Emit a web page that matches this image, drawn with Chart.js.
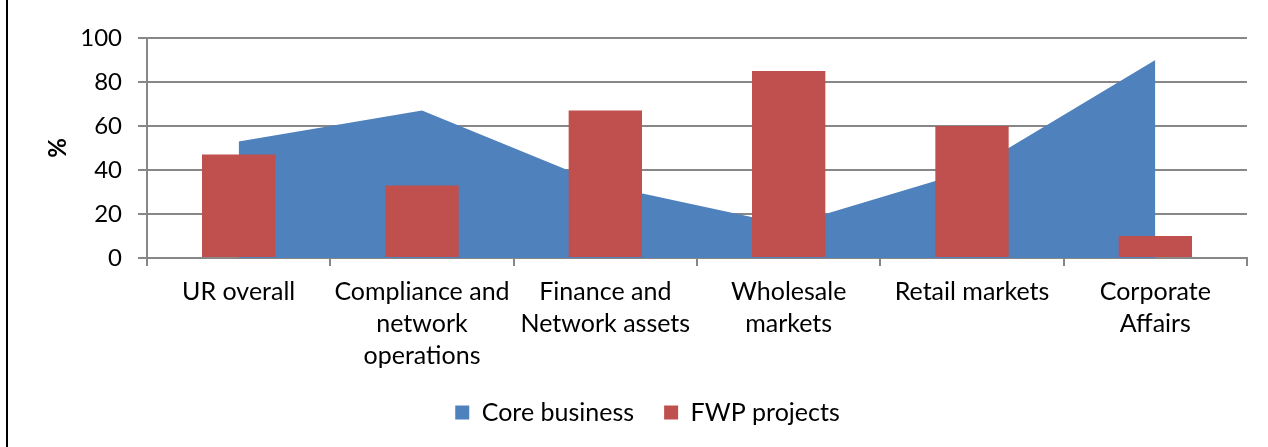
<!DOCTYPE html>
<html>
<head>
<meta charset="utf-8">
<script src="https://cdn.jsdelivr.net/npm/chart.js@4.4.1/dist/chart.umd.min.js"></script>
<style>
  html, body { margin: 0; padding: 0; background: #fff; }
  #wrap { position: relative; width: 1268px; height: 447px; }
  #edge { position: absolute; left: 6px; top: 0; width: 2px; height: 447px; background: #000; }
</style>
</head>
<body>
<div id="wrap">
  <canvas id="chart" width="1268" height="447"></canvas>
  <div id="edge"></div>
</div>
<script>
// data
const categories = [
    'UR overall',
    ['Compliance and', 'network', 'operations'],
    ['Finance and', 'Network assets'],
    ['Wholesale', 'markets'],
    'Retail markets',
    ['Corporate', 'Affairs']
];
const coreBusiness = [53, 67, 33, 15, 40, 90];
const fwpProjects = [47, 33, 67, 85, 60, 10];
const yMin = 0, yMax = 100, yStep = 20;

const FONT = 'Lato, Carlito, Calibri, sans-serif';
const GRID = '#878787';

Chart.defaults.font.family = FONT;
Chart.defaults.color = '#000';

// nudge the legend a bit right, like the original
const legendShift = {
    id: 'legendShift',
    afterLayout(chart) {
        const l = chart.legend;
        if (l) { l.left += 24; l.right += 24; }
    }
};

const ctx = document.getElementById('chart');
new Chart(ctx, {
    type: 'bar',
    data: {
        labels: categories,
        datasets: [
            {
                type: 'line',
                label: 'Core business',
                data: coreBusiness,
                backgroundColor: '#4F81BD',
                borderColor: '#4F81BD',
                borderWidth: 0,
                pointRadius: 0,
                tension: 0,
                fill: 'origin',
                order: 2
            },
            {
                type: 'bar',
                label: 'FWP projects',
                data: fwpProjects,
                backgroundColor: '#C0504D',
                barPercentage: 0.4,
                categoryPercentage: 1,
                order: 1
            }
        ]
    },
    plugins: [legendShift],
    options: {
        responsive: false,
        animation: false,
        layout: { padding: { top: 38, left: 0, right: 21, bottom: 12 } },
        plugins: {
            tooltip: { enabled: false },
            legend: {
                position: 'bottom',
                labels: {
                    boxWidth: 14,
                    boxHeight: 14,
                    padding: 30,
                    font: { size: 25 },
                    sort: (a, b) => a.datasetIndex - b.datasetIndex
                }
            }
        },
        scales: {
            x: {
                grid: {
                    offset: true,
                    drawOnChartArea: false,
                    drawTicks: true,
                    tickLength: 8,
                    color: GRID,
                    lineWidth: 2
                },
                border: { color: GRID, width: 2 },
                ticks: {
                    maxRotation: 0,
                    autoSkip: false,
                    padding: 10,
                    font: { size: 25, lineHeight: 1.28 }
                },
                afterFit: scale => { scale.height = 112; }
            },
            y: {
                min: yMin,
                max: yMax,
                ticks: {
                    stepSize: yStep,
                    padding: 16,
                    font: { size: 24 }
                },
                grid: { color: GRID, lineWidth: 2, tickLength: 9 },
                border: { color: GRID, width: 2 },
                title: {
                    display: true,
                    text: '%',
                    font: { size: 24, weight: 'bold' },
                    padding: { top: 44, bottom: 0 }
                },
                afterFit: scale => { scale.width = 147; }
            }
        }
    }
});
</script>
</body>
</html>
